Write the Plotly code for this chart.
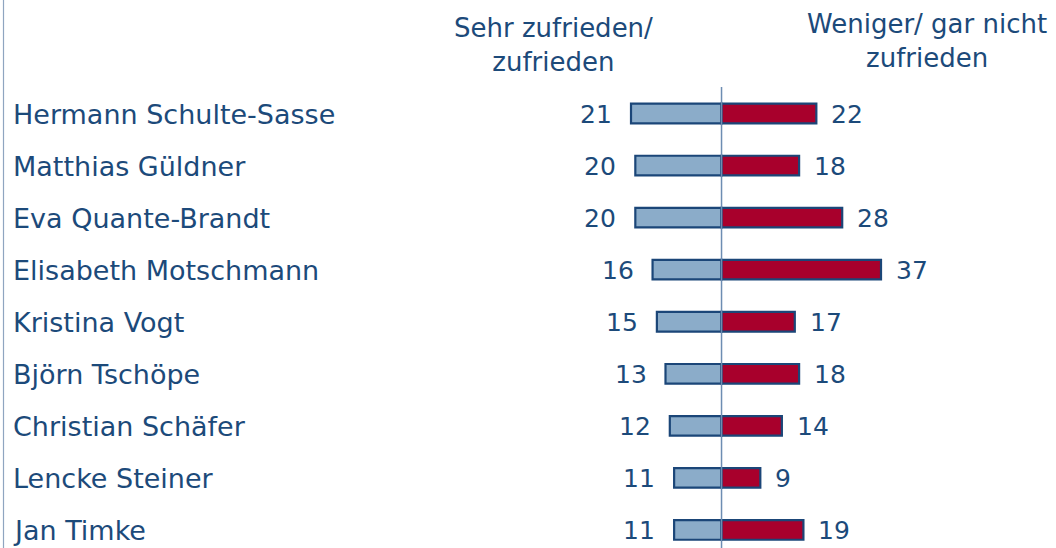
import plotly.graph_objects as go

names = ["Hermann Schulte-Sasse", "Matthias Güldner", "Eva Quante-Brandt",
         "Elisabeth Motschmann", "Kristina Vogt", "Björn Tschöpe",
         "Christian Schäfer", "Lencke Steiner", "Jan Timke"]
satisfied = [21, 20, 20, 16, 15, 13, 12, 11, 11]
dissatisfied = [22, 18, 28, 37, 17, 18, 14, 9, 19]
header_left = "Sehr zufrieden/<br>zufrieden"
header_right = "Weniger/ gar nicht<br>zufrieden"

TEXT = "#1c4a7a"
FONT = "DejaVu Sans"
W, H = 1056, 548

fig = go.Figure()
fig.add_trace(go.Bar(
    y=names, x=[-v for v in satisfied], orientation="h", base=0,
    marker=dict(color="#8bacc9", line=dict(color="#1b4678", width=2.2)),
    width=0.376, showlegend=False, hoverinfo="skip"))
fig.add_trace(go.Bar(
    y=names, x=dissatisfied, orientation="h", base=0,
    marker=dict(color="#a8002c", line=dict(color="#1b4678", width=2.2)),
    width=0.376, showlegend=False, hoverinfo="skip"))

ann = []
for n, s, d in zip(names, satisfied, dissatisfied):
    ann.append(dict(xref="paper", yref="y", x=11 / W, y=n, text=n,
                    xanchor="left", yanchor="middle", showarrow=False,
                    yshift=-1, font=dict(family=FONT, size=27, color=TEXT)))
    ann.append(dict(xref="x", yref="y", x=-s, y=n, text=str(s),
                    xanchor="right", yanchor="middle", showarrow=False,
                    xshift=-17, yshift=-1, font=dict(family=FONT, size=25, color=TEXT)))
    ann.append(dict(xref="x", yref="y", x=d, y=n, text=str(d),
                    xanchor="left", yanchor="middle", showarrow=False,
                    xshift=13, yshift=-1, font=dict(family=FONT, size=25, color=TEXT)))

ann.append(dict(xref="paper", yref="paper", x=553 / W, y=1 - 45 / H,
                text=header_left, xanchor="center", yanchor="middle",
                showarrow=False, align="center",
                font=dict(family=FONT, size=26, color=TEXT)))
ann.append(dict(xref="paper", yref="paper", x=927 / W, y=1 - 41 / H,
                text=header_right, xanchor="center", yanchor="middle",
                showarrow=False, align="center",
                font=dict(family=FONT, size=26, color=TEXT)))

shapes = [
    dict(type="line", xref="x", yref="paper", x0=0, x1=0, y0=0, y1=1 - 87 / H,
         line=dict(color="#6d8db2", width=1.5)),
    dict(type="line", xref="paper", yref="paper", x0=3.5 / W, x1=3.5 / W, y0=0, y1=1,
         line=dict(color="#8fa5c0", width=1.2)),
]

fig.update_layout(
    width=W, height=H, barmode="overlay",
    margin=dict(l=0, r=0, t=0, b=0),
    paper_bgcolor="white", plot_bgcolor="white",
    xaxis=dict(range=[-167.4, 77.6], visible=False, fixedrange=True),
    yaxis=dict(range=[8.346, -2.180], visible=False, type="category",
               categoryorder="array", categoryarray=names, fixedrange=True),
    annotations=ann, shapes=shapes,
)
fig.write_html("out.html", config={"displayModeBar": False},
               post_script="document.body.style.margin='0';document.body.style.overflow='hidden';")
